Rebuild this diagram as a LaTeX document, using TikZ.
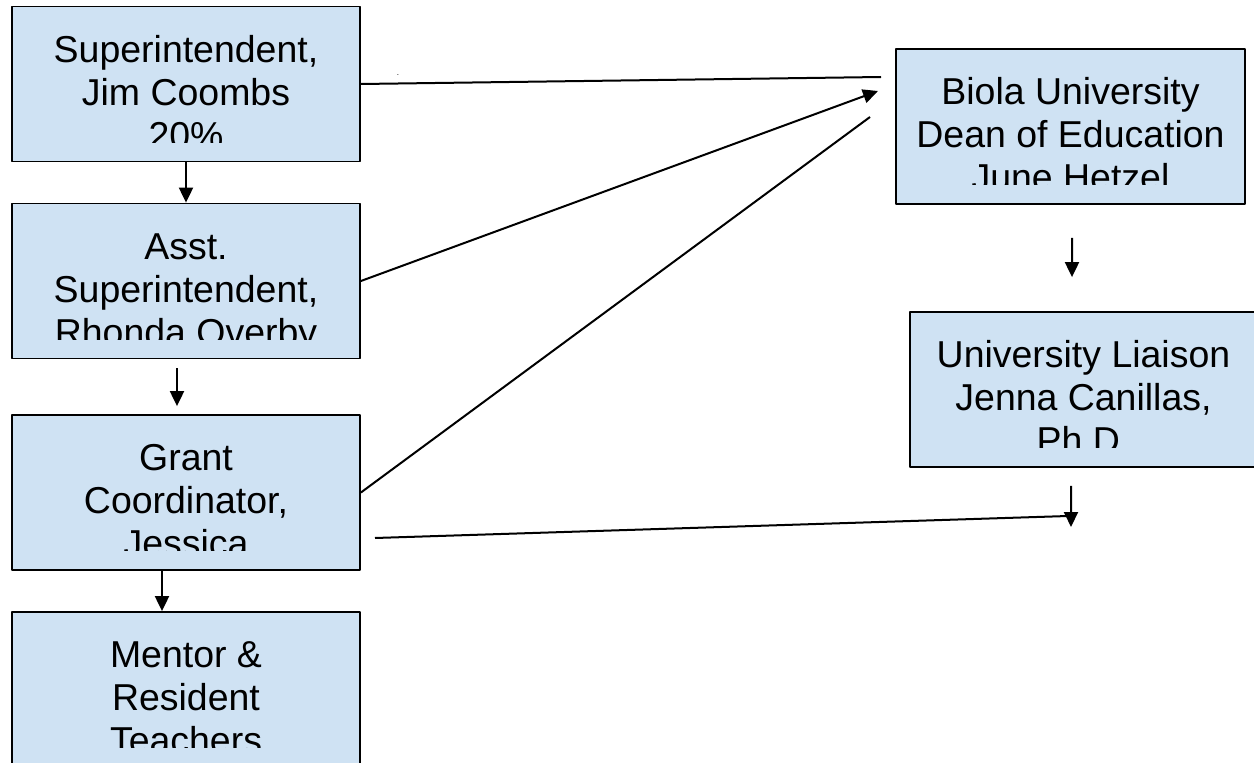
\documentclass[tikz,border=0pt]{standalone}
\usepackage{fontspec}
\setmainfont{Liberation Sans}
\usetikzlibrary{arrows.meta}
\definecolor{boxblue}{RGB}{207,226,243}
\tikzset{
  orgbox/.style={draw=black,fill=boxblue,line width=1.8bp,inner sep=0pt,minimum height=155bp,minimum width=348bp},
  orgtext/.style={align=center,anchor=base,inner sep=0pt,font=\fontsize{37.6}{43.2}\selectfont},
  link/.style={line width=2bp},
  arr/.style={line width=2bp,-{Triangle[length=15bp,width=14bp]}}
}
\begin{document}
\begin{tikzpicture}[x=1bp,y=-1bp,line join=round]
\useasboundingbox (0,0) rectangle (1254,763);
% boxes
\node[orgbox] (sup) at (186,84) {};
\node[orgbox] (asst) at (186,281) {};
\node[orgbox] (grant) at (186,492.5) {};
\node[orgbox] (mentor) at (186,689.5) {};
\node[orgbox,minimum width=349bp] (dean) at (1070.5,126.5) {};
\node[orgbox,minimum width=347bp] (liaison) at (1083.5,389.5) {};
% texts, cut off near the bottom of each box
\foreach \n/\t in {sup/{Superintendent,\\Jim Coombs\\20\%},
    asst/{Asst.\\Superintendent,\\Rhonda Overby},
    grant/{Grant\\Coordinator,\\Jessica},
    mentor/{Mentor \&\\Resident\\Teachers},
    dean/{Biola University\\Dean of Education\\June Hetzel},
    liaison/{University Liaison\\Jenna Canillas,\\Ph.D.}}{
  \begin{scope}
    \clip (\n.north west) rectangle ([yshift=20bp]\n.south east);
    \node[orgtext] (\n-txt) at ([yshift=-142.5bp]\n.north) {\t};
  \end{scope}
}
\node[font=\fontsize{8}{8}\selectfont,inner sep=0pt,anchor=base] (stray) at (398,76) {.};
% free ends
\coordinate (deanin) at (881,77);
\coordinate (deantip) at (878,91);
\coordinate (deanend) at (870,117);
\coordinate (gcstart) at (375,538);
\coordinate (gcend) at (1068,516);
\coordinate (liaisontip) at (1071,527);
% connectors
\draw[link] (sup.east) -- (deanin);
\draw[arr] (asst.east) -- (deantip);
\draw[link] (grant.east) -- (deanend);
\draw[link] (gcstart) -- (gcend);
\draw[arr] (sup) -- (asst);
\draw[arr] ([xshift=-9bp,yshift=-9bp]asst.south) -- ([xshift=-9bp,yshift=8bp]grant.north);
\draw[arr] ([xshift=-24bp]grant.south) -- ([xshift=-24bp]mentor.north);
\draw[arr] ([xshift=1.5bp,yshift=-33bp]dean.south) -- ([xshift=-11.5bp,yshift=34bp]liaison.north);
\draw[arr] ([xshift=-12.5bp,yshift=-18bp]liaison.south) -- (liaisontip);
\end{tikzpicture}
\end{document}
